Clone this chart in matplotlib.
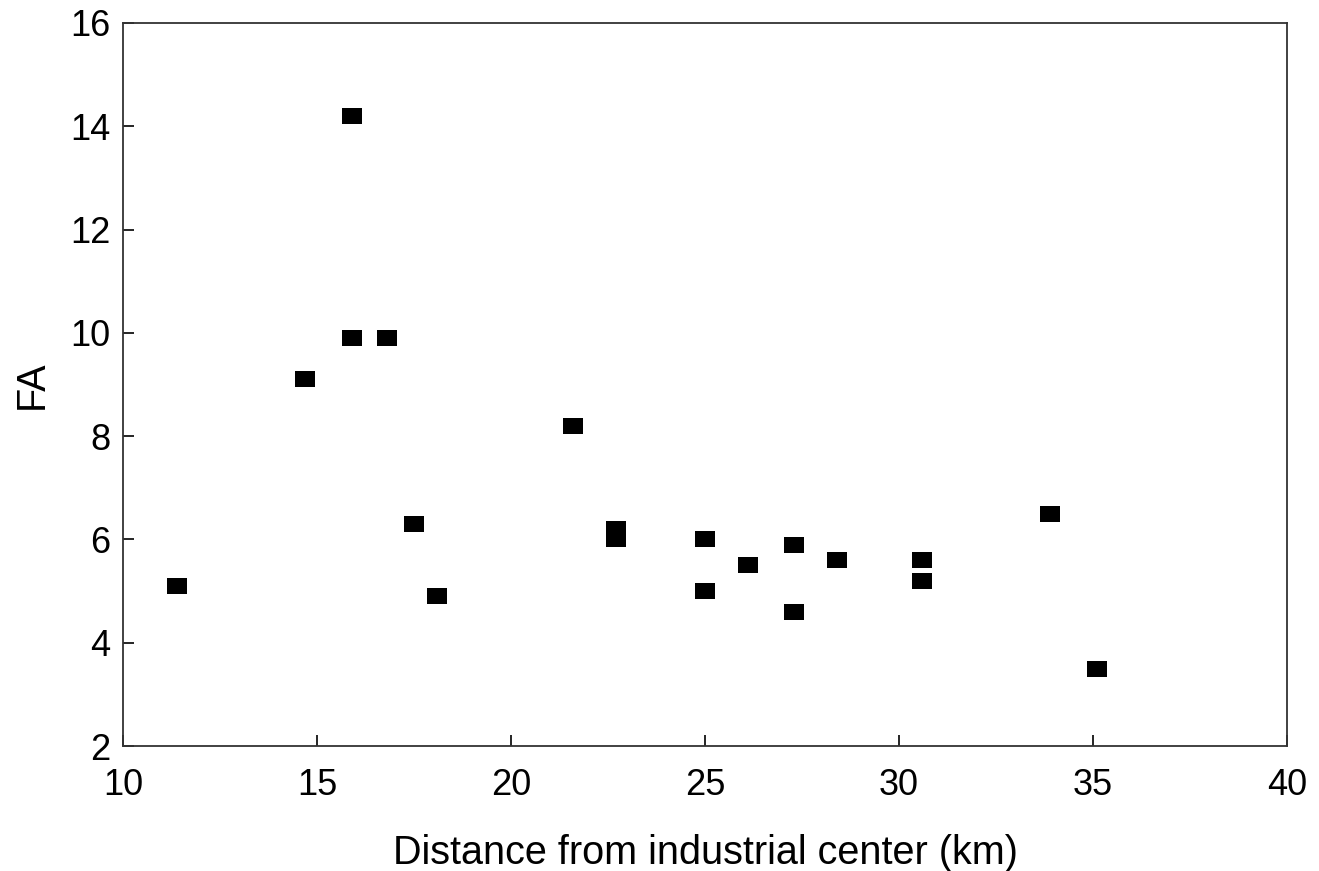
import numpy as np
import matplotlib
matplotlib.use('Agg')
import matplotlib.pyplot as plt

plt.rcParams['font.family'] = ['Liberation Sans', 'DejaVu Sans']

# 資料
distance = [11.4, 14.7, 15.9, 15.9, 16.8, 17.5, 18.1, 21.6, 22.7, 22.7,
            25.0, 25.0, 26.1, 27.3, 27.3, 28.4, 30.6, 30.6, 33.9, 35.1]
fa = [5.1, 9.1, 14.2, 9.9, 9.9, 6.3, 4.9, 8.2, 6.2, 6.0,
      6.0, 5.0, 5.5, 5.9, 4.6, 5.6, 5.6, 5.2, 6.5, 3.5]
x_ticks = [10, 15, 20, 25, 30, 35, 40]
y_ticks = [2, 4, 6, 8, 10, 12, 14, 16]

fig = plt.figure(figsize=(13.19, 8.71), dpi=100)
ax = fig.add_axes([0.0933, 0.1435, 0.8824, 0.8301])

# 長方形標記
rect = [(-1.2, -1), (1.2, -1), (1.2, 1), (-1.2, 1), (-1.2, -1)]
ax.plot(distance, fa, linestyle='none', marker=rect, markersize=14,
        color='black', markeredgewidth=0)

ax.set_xlim(10, 40)
ax.set_ylim(2, 16)
ax.set_xticks(x_ticks)
ax.set_yticks(y_ticks)
ax.tick_params(direction='in', length=8, width=1.2, labelsize=26,
               top=False, right=False)
ax.tick_params(axis='x', pad=16)
ax.tick_params(axis='y', pad=9)
for s in ax.spines.values():
    s.set_linewidth(1.3)
    s.set_color('#333333')
ax.set_xlabel('Distance from industrial center (km)', fontsize=28.5, labelpad=22)
ax.set_ylabel('FA', fontsize=28.5, labelpad=14)

fig.savefig('out.png', dpi=100)
